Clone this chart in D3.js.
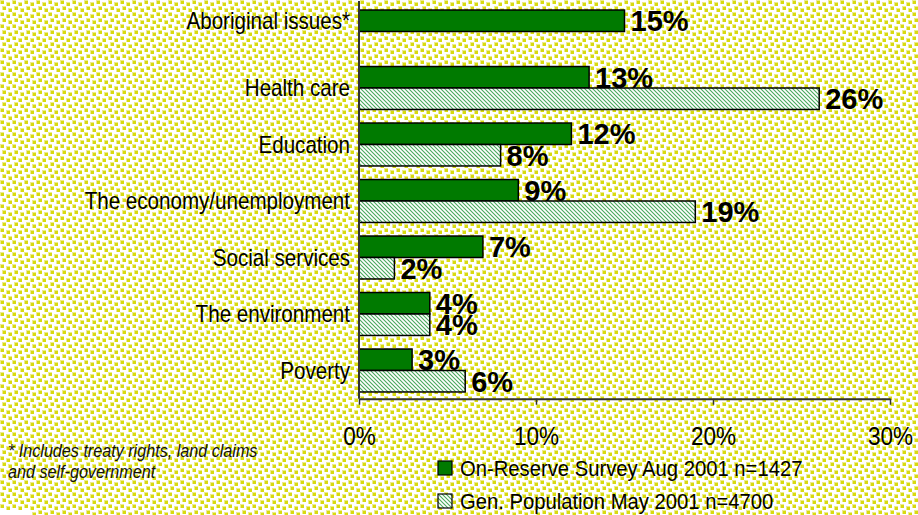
<!DOCTYPE html>
<html>
<head>
<meta charset="utf-8">
<script src="https://cdn.jsdelivr.net/npm/d3@7"></script>
<style>
  html, body { margin: 0; padding: 0; background: #fff; }
  svg { display: block; }
  text { font-family: "Liberation Sans", Arial, sans-serif; fill: #000; }
</style>
</head>
<body>
<svg id="chart" width="918" height="515"></svg>
<script>
// Most important issues facing Canada, by survey
const categories = [
  "Aboriginal issues*",
  "Health care",
  "Education",
  "The economy/unemployment",
  "Social services",
  "The environment",
  "Poverty"
];
const onReserve = [15, 13, 12, 9, 7, 4, 3];
const genPopulation = [null, 26, 8, 19, 2, 4, 6];
const seriesNames = [
  "On-Reserve Survey Aug 2001 n=1427",
  "Gen. Population May 2001 n=4700"
];
const tickValues = [0, 10, 20, 30];
const footnote = [
  "* Includes treaty rights, land claims",
  "and self-government"
];

const W = 918, H = 515;
const svg = d3.select("#chart");
const defs = svg.append("defs");

// Yellow-green dotted backdrop
const bg = defs.append("pattern")
  .attr("id", "bgDots").attr("patternUnits", "userSpaceOnUse")
  .attr("width", 12).attr("height", 12);
bg.append("rect").attr("width", 12).attr("height", 12).attr("fill", "#ffffff");
[[0, 0], [6, 2], [2, 6], [8, 8]].forEach(([px, py]) => {
  bg.append("rect").attr("x", px).attr("y", py).attr("width", 4).attr("height", 4)
    .attr("fill", "#ebec8c");
  bg.append("rect").attr("x", px + 1).attr("y", py + 1).attr("width", 3).attr("height", 3)
    .attr("fill", "#d8da10");
});

// Fine green diagonal hatch for the general-population bars
const hatch = defs.append("pattern")
  .attr("id", "hatch").attr("patternUnits", "userSpaceOnUse")
  .attr("width", 4).attr("height", 4);
hatch.append("rect").attr("width", 4).attr("height", 4).attr("fill", "#ffffff");
hatch.append("path").attr("d", "M-1,-1 L5,5 M-1,3 L1,5 M3,-1 L5,1")
  .attr("stroke", "#48a85c").attr("stroke-width", 1.1);

svg.append("rect").attr("width", W).attr("height", H).attr("fill", "url(#bgDots)");
svg.append("rect").attr("x", 0).attr("y", 510).attr("width", 32).attr("height", 5).attr("fill", "#fff");

// Scales
const x = d3.scaleLinear().domain([0, 30]).range([359, 890]);
const y = d3.scaleBand().domain(categories).range([3.25, 398.75])
  .paddingInner(0.24).paddingOuter(0.12);
const sub = d3.scaleBand().domain([0, 1]).range([0, y.bandwidth()]);

const fills = ["#007a00", "url(#hatch)"];
const rows = categories.map((c, i) => ({
  cat: c,
  vals: [onReserve[i], genPopulation[i]]
}));

// Bars
const bars = [];
rows.forEach(r => r.vals.forEach((v, s) => {
  if (v != null) bars.push({ cat: r.cat, s, v });
}));

svg.append("g").selectAll("rect").data(bars).join("rect")
  .attr("x", x(0))
  .attr("y", d => y(d.cat) + sub(d.s))
  .attr("width", d => x(d.v) - x(0))
  .attr("height", sub.bandwidth())
  .attr("fill", d => fills[d.s])
  .attr("stroke", "#000").attr("stroke-width", 1.5);

// Value labels
svg.append("g").selectAll("text").data(bars).join("text")
  .attr("x", d => x(d.v) + 6)
  .attr("y", d => y(d.cat) + sub(d.s) + sub.bandwidth() / 2)
  .attr("dy", "0.36em")
  .style("font-size", "29px").style("font-weight", "bold")
  .text(d => d.v + "%");

// Category labels, centred on the bars drawn for each category
svg.append("g").selectAll("text").data(rows).join("text")
  .attr("transform", r => {
    const drawn = r.vals.map((v, s) => v != null ? s : null).filter(s => s != null);
    const top = y(r.cat) + sub(drawn[0]);
    const bot = y(r.cat) + sub(drawn[drawn.length - 1]) + sub.bandwidth();
    return `translate(350,${(top + bot) / 2}) scale(0.895,1)`;
  })
  .attr("dy", "0.36em")
  .attr("text-anchor", "end")
  .style("font-size", "23px")
  .text(r => r.cat);

// Axes
const yAxis = svg.append("g").attr("transform", `translate(${x(0)},0)`)
  .call(d3.axisLeft(y).tickSize(0).tickFormat(""));
yAxis.select(".domain").attr("d", `M0,1V${y.range()[1]}`)
  .attr("stroke", "#333").attr("stroke-width", 2);

const xAxis = svg.append("g").attr("transform", `translate(0,${y.range()[1]})`)
  .call(d3.axisBottom(x).tickValues(tickValues).tickFormat(d => d + "%")
    .tickSize(6).tickSizeOuter(0));
xAxis.select(".domain").attr("stroke", "#333").attr("stroke-width", 2);
xAxis.selectAll(".tick line").attr("stroke", "#333").attr("stroke-width", 1.5);
xAxis.selectAll(".tick text")
  .attr("y", 0).attr("dy", 0)
  .attr("transform", "translate(0,46) scale(0.9,1)")
  .style("font-size", "25px").style("font-family", "'Liberation Sans', Arial, sans-serif")
  .attr("fill", "#000");

// Legend
const legend = svg.append("g");
seriesNames.forEach((name, i) => {
  const ly = 461 + i * 33;
  legend.append("rect").attr("x", 438).attr("y", ly).attr("width", 14).attr("height", 14)
    .attr("fill", fills[i]).attr("stroke", "#000").attr("stroke-width", 1.2);
  legend.append("text")
    .attr("transform", `translate(460,${ly + 15}) scale(0.92,1)`)
    .style("font-size", "22px")
    .text(name);
});

// Footnote
svg.append("g").selectAll("text").data(footnote).join("text")
  .attr("transform", (d, i) => `translate(8,${457 + i * 21}) scale(0.85,1)`)
  .style("font-size", "19px").style("font-style", "italic").style("fill", "#111")
  .text(d => d);
</script>
</body>
</html>
